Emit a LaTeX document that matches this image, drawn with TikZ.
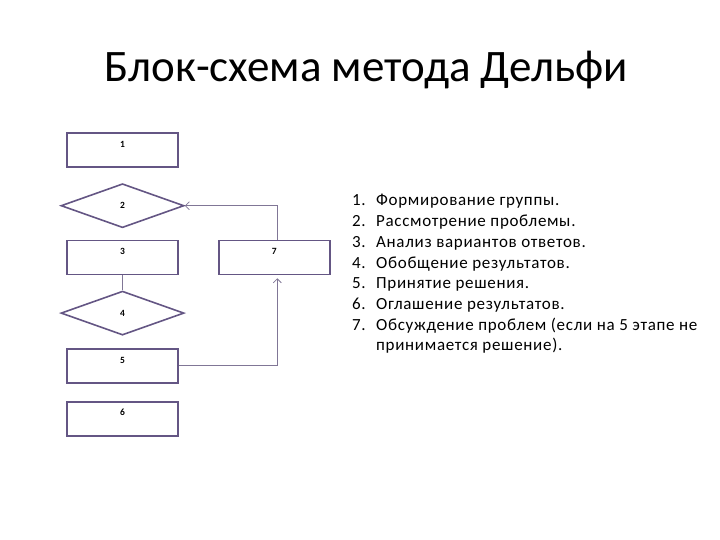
\documentclass[tikz,border=0pt]{standalone}
\usepackage{fontspec}
\setmainfont{Carlito}
\newfontfamily\listfont[LetterSpace=4]{Carlito}
\usetikzlibrary{arrows.meta,positioning,shapes.geometric}
\definecolor{boxline}{RGB}{100,86,132}
\definecolor{flowline}{RGB}{128,118,150}

\begin{document}
\begin{tikzpicture}[
    x=1pt, y=-1pt,
    node distance=15pt and 39pt,
    stage/.style={draw=boxline, line width=1.8pt, minimum width=111pt,
                  minimum height=34pt, inner sep=0pt, text height=7pt,
                  text depth=12.6pt, font=\fontsize{9.5}{10}\selectfont\bfseries},
    choice/.style={diamond, draw=boxline, line width=1.6pt, minimum width=123pt,
                   minimum height=44pt, inner sep=0pt,
                   font=\fontsize{9.5}{10}\selectfont\bfseries},
    conn/.style={-{Straight Barb[length=4pt,width=8pt]}, line width=0.8pt, flowline},
]
    \useasboundingbox (0,0) rectangle (720,540);

    \node[anchor=base, font=\fontsize{45}{50}\selectfont] (title) at (366,82)
        {Блок-схема метода Дельфи};

    % left column of stages
    \node[stage] (b1) at (122.5,150) {1};
    \node[choice, below=15pt of b1] (d2) {2};
    \node[stage, below=11pt of d2] (b3) {3};
    \node[choice, below=15pt of b3] (d4) {4};
    \node[stage, below=12pt of d4] (b5) {5};
    \node[stage, below=17pt of b5] (b6) {6};
    \node[stage, right=39pt of b3] (b7) {7};

    \draw[line width=0.8pt, flowline] (b3.south) -- (d4.north);
    \draw[conn, shorten >=3pt] (b5.east) -| ([xshift=3pt]b7.south);
    \draw[conn] ([xshift=3pt]b7.north) |- (d2.east);

    % legend
    \node[anchor=base west, inner sep=0pt, font=\fontsize{17}{20.7}\selectfont\listfont] (legend)
        at (352,206) {\begin{tabular}[t]{@{}p{24pt}@{}l@{}}
        1. & Формирование группы.\\
        2. & Рассмотрение проблемы.\\
        3. & Анализ вариантов ответов.\\
        4. & Обобщение результатов.\\
        5. & Принятие решения.\\
        6. & Оглашение результатов.\\
        7. & Обсуждение проблем (если на 5 этапе не\\
           & принимается решение).
        \end{tabular}};
\end{tikzpicture}
\end{document}
